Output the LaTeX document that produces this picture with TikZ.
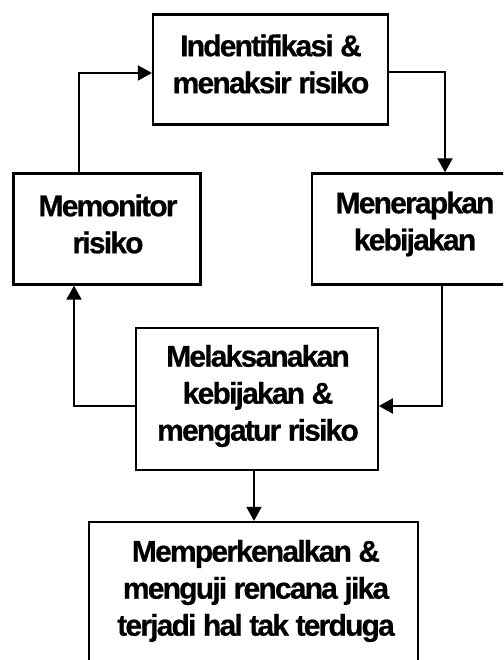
\documentclass[tikz,border=0pt]{standalone}
\usepackage{fontspec}
\newfontfamily\dfont{Liberation Sans}[LetterSpace=-6,FakeBold=0.6]
\usetikzlibrary{arrows.meta}
\begin{document}
\begin{tikzpicture}[x=1pt,y=-1pt,
  box/.style={draw=black,line width=2.3pt,fill=none,inner sep=0pt,rectangle},
  txt/.style={align=center,inner sep=0pt,font=\dfont\bfseries\fontsize{30}{37}\selectfont},
  arr/.style={line width=2pt,-{Triangle[length=14pt,width=15pt]}}]
\clip (0,0) rectangle (503,660);
% boxes
\node[box,minimum width=235pt,minimum height=110pt] (top) at (270.5,69.5) {};
\node[box,minimum width=187pt,minimum height=111pt] (left) at (107,229) {};
\node[box,minimum width=206pt,minimum height=111pt] (right) at (415,229) {};
\node[box,minimum width=242pt,minimum height=142pt] (mid) at (256.7,399) {};
\node[box,minimum width=329pt,minimum height=160pt] (bot) at (253.7,602) {};
% texts
\node[txt] (ttop) at (271,64) {Indentifikasi \&\\menaksir risiko};
\node[txt] (tleft) at (108,224) {Memonitor\\risiko};
\node[txt] (tright) at (415,224) {Menerapkan\\kebijakan};
\node[txt] (tmid) at (258,396) {Melaksanakan\\kebijakan \&\\mengatur risiko};
\node[txt] (tbot) at (256,591) {Memperkenalkan \&\\menguji rencana jika\\terjadi hal tak terduga};
% connectors
\draw[arr] ([xshift=-28pt]left.north) |- ([yshift=-3.5pt]top.west);
\draw[arr] ([yshift=-2.5pt]top.east) -| ([xshift=30pt]right.north);
\draw[arr] ([xshift=27pt]right.south) |- ([yshift=-7pt]mid.east);
\draw[arr] ([yshift=-7pt]mid.west) -| ([xshift=-33pt]left.south);
\draw[arr] ([xshift=-2.7pt]mid.south) -- ([xshift=-2.7pt]mid.south |- bot.north);
\end{tikzpicture}
\end{document}
